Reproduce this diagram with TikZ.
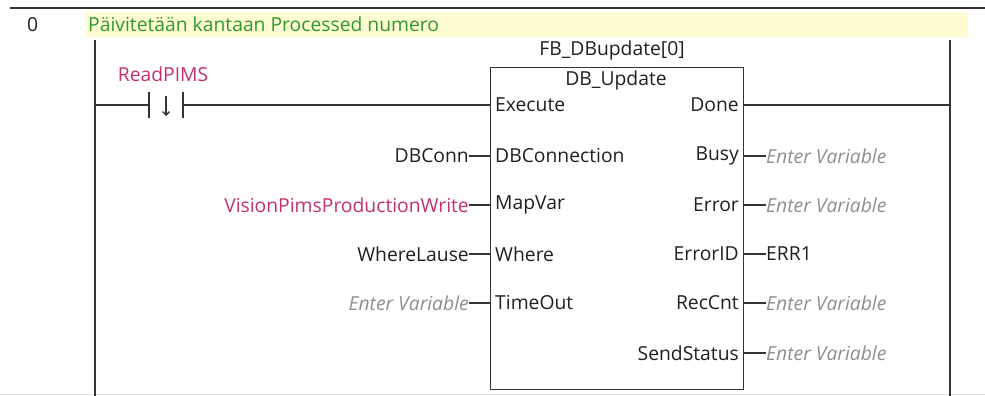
\documentclass[tikz,border=0pt]{standalone}
\usepackage{fontspec}
\setmainfont{Open Sans}
\usetikzlibrary{arrows.meta}
\definecolor{rung}{HTML}{333333}
\definecolor{varmag}{HTML}{C4306E}
\definecolor{cmtgreen}{HTML}{2E9A2E}
\definecolor{cmtbg}{HTML}{FFFBD2}
\definecolor{hint}{HTML}{8E8E8E}
\tikzset{
  wire/.style={draw=rung, line width=1.4pt},
  lbl/.style={font=\fontsize{19.3}{22}\selectfont, inner sep=0pt, text=black!88},
  pinin/.style={lbl, anchor=west},
  pinout/.style={lbl, anchor=east},
  argin/.style={lbl, anchor=east},
  argout/.style={lbl, anchor=west},
  hinttext/.style={text=hint, font=\fontsize{19.3}{22}\selectfont\itshape},
}
\begin{document}
\begin{tikzpicture}[x=1pt,y=-1pt]
\useasboundingbox (0,0) rectangle (985,396);
% rung header
\fill[cmtbg] (86,12) rectangle (968,37);
\draw[rung, line width=1.6pt] (10,8) -- (985,8);
\draw[black!12, line width=0.8pt] (0,394) -- (985,394);
\node[lbl, anchor=west] (num) at (27,25) {0};
\node[lbl, anchor=west, text=cmtgreen] (cmt) at (88,24) {Päivitetään kantaan Processed numero};
% power rails
\coordinate (lt) at (95,40);
\coordinate (lb) at (95,396);
\coordinate (rt) at (950,40);
\coordinate (rb) at (950,396);
\draw[wire] (lt) -- (lb);
\draw[wire] (rt) -- (rb);
% falling-edge contact
\coordinate (cL) at (149,105);
\coordinate (cR) at (183,105);
\draw[wire] (95,105) -- (cL);
\draw[wire] (149,92) -- (149,118);
\draw[wire] (183,92) -- (183,118);
\draw[rung, line width=1.4pt, -{Straight Barb[length=3.5pt,width=7pt]}] (166,96) -- (166,116);
\node[lbl, text=varmag] (rp) at (163,74) {ReadPIMS};
% function block
\node[draw=rung, line width=1.4pt, minimum width=253pt, minimum height=322pt, inner sep=0pt, anchor=north west] (fb) at (490,67) {};
\node[lbl] (inst) at (612,50) {FB\_DBupdate[0]};
\node[lbl] (type) at (616,80) {DB\_Update};
% input pins
\foreach \nm/\yy in {Execute/105, DBConnection/156, MapVar/205, Where/254, TimeOut/303} {
  \node[pinin] (in\nm) at (495,\yy) {\nm};
}
% output pins
\foreach \nm/\yy in {Done/105, Busy/156, Error/205, ErrorID/254, RecCnt/303, SendStatus/353} {
  \node[pinout] (out\nm) at (739,\yy) {\nm};
}
\draw[wire] (cR) -- (490,105);
\coordinate (doneR) at (950,105);
\draw[wire] (743,105) -- (doneR);
% input arguments
\node[argin] (aConn) at (469,156) {DBConn};
\node[argin, text=varmag] (aMap) at (469,205) {VisionPimsProductionWrite};
\node[argin] (aWhere) at (469,254) {WhereLause};
\node[argin, hinttext] (aTime) at (469,303) {Enter Variable};
\foreach \a/\yy in {aConn/156, aMap/205, aWhere/254, aTime/303} {
  \draw[wire] (\a.east |- 0,\yy) -- (490,\yy);
}
% output arguments
\node[argout, hinttext] (oBusy) at (766,156) {Enter Variable};
\node[argout, hinttext] (oErr) at (766,205) {Enter Variable};
\node[argout] (oID) at (766,254) {ERR1};
\node[argout, hinttext] (oRec) at (766,303) {Enter Variable};
\node[argout, hinttext] (oSend) at (766,353) {Enter Variable};
\foreach \a/\yy in {oBusy/156, oErr/205, oID/254, oRec/303, oSend/353} {
  \draw[wire] (743,\yy) -- (\a.west |- 0,\yy);
}
\end{tikzpicture}
\end{document}
